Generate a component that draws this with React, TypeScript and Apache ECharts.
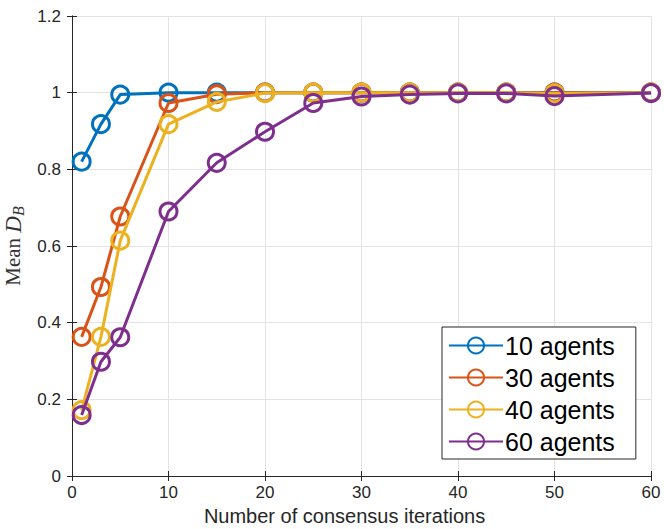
import React, { useEffect, useRef } from 'react';
import * as echarts from 'echarts';

const iterations = [1, 3, 5, 10, 15, 20, 25, 30, 35, 40, 45, 50, 60];
const agents10 = [0.82, 0.918, 0.995, 1.0, 1.0, 1.0, 1.0, 1.0, 1.0, 1.0, 1.0, 1.0, 1.0];
const agents30 = [0.363, 0.493, 0.677, 0.973, 0.996, 1.0, 1.0, 1.0, 1.0, 1.0, 1.0, 1.0, 1.0];
const agents40 = [0.172, 0.363, 0.614, 0.918, 0.976, 0.999, 1.0, 1.0, 1.0, 1.0, 1.0, 0.998, 1.0];
const agents60 = [0.159, 0.298, 0.362, 0.69, 0.817, 0.898, 0.973, 0.99, 0.995, 0.998, 0.998, 0.991, 0.999];
const seriesNames = ['10 agents', '30 agents', '40 agents', '60 agents'];
const seriesValues = [agents10, agents30, agents40, agents60];
const colors = ['#0072BD', '#D95319', '#EDB120', '#7E2F8E'];

const FONT = '"Liberation Sans", Arial, Helvetica, sans-serif';
const SERIF = '"Liberation Serif", "DejaVu Serif", serif';
const AXIS_COLOR = '#262626';
const GRID_COLOR = '#e3e3e3';

export default function App() {
  const ref = useRef<HTMLDivElement>(null);
  useEffect(() => {
    if (!ref.current) return;
    const chart = echarts.init(ref.current, undefined, { renderer: 'svg' });
    const axisCommon = {
      axisLine: { show: true, lineStyle: { color: AXIS_COLOR, width: 1 } },
      axisTick: { show: true, inside: true, length: 5, lineStyle: { color: AXIS_COLOR } },
    };
    chart.setOption({
      animation: false,
      backgroundColor: '#ffffff',
      grid: { left: 72, right: 13, top: 16, bottom: 53, containLabel: false, outerBoundsMode: 'none' },
      xAxis: [
        {
          type: 'value', min: 0, max: 60, interval: 10, position: 'bottom', ...axisCommon,
          axisLabel: { color: AXIS_COLOR, fontSize: 17, fontFamily: FONT, margin: 8 },
          splitLine: { show: true, lineStyle: { color: GRID_COLOR, width: 1 } },
          name: 'Number of consensus iterations', nameLocation: 'middle', nameGap: 30,
          nameTextStyle: { color: AXIS_COLOR, fontSize: 20, fontFamily: FONT, padding: [0, 34, 0, 0] },
        },
        { type: 'value', min: 0, max: 60, interval: 10, position: 'top', ...axisCommon, axisLabel: { show: false }, splitLine: { show: false } },
      ],
      yAxis: [
        {
          type: 'value', min: 0, max: 1.2, interval: 0.2, position: 'left', ...axisCommon,
          axisLabel: { color: AXIS_COLOR, fontSize: 17, fontFamily: FONT, margin: 11 },
          splitLine: { show: true, lineStyle: { color: GRID_COLOR, width: 1 } },
          name: '{m|Mean }{d|D}{b|B}', nameLocation: 'middle', nameGap: 42, nameRotate: 90,
          nameTextStyle: {
            rich: {
              m: { fontFamily: SERIF, fontSize: 21, color: '#333333', lineHeight: 24, verticalAlign: 'top' },
              d: { fontFamily: SERIF, fontStyle: 'italic', fontSize: 23, color: '#333333', lineHeight: 24, verticalAlign: 'top' },
              b: { fontFamily: SERIF, fontStyle: 'italic', fontSize: 16, color: '#333333', lineHeight: 16, padding: [12, 0, 0, 0], verticalAlign: 'bottom' },
            },
          },
        },
        { type: 'value', min: 0, max: 1.2, interval: 0.2, position: 'right', ...axisCommon, axisLabel: { show: false }, splitLine: { show: false } },
      ],
      legend: {
        orient: 'vertical', left: 442, top: 327, itemWidth: 54, itemHeight: 20, itemGap: 7,
        padding: [6, 21, 5, 6], backgroundColor: '#ffffff', borderColor: AXIS_COLOR, borderWidth: 1, borderRadius: 0,
        textStyle: { fontSize: 25, fontFamily: FONT, color: '#000000', lineHeight: 24, padding: [0, 0, 0, -3] },
        data: seriesNames,
      },
      series: seriesNames.map((name, i) => ({
        name, type: 'line', xAxisIndex: 0, yAxisIndex: 0,
        data: iterations.map((x, j) => [x, seriesValues[i][j]]),
        color: colors[i], symbol: 'circle', symbolSize: 17, showAllSymbol: true,
        lineStyle: { color: colors[i], width: 3 },
        itemStyle: { color: 'rgba(255,255,255,0)', borderColor: colors[i], borderWidth: 3 },
        z: 2 + i, emphasis: { disabled: true },
      })),
    });
    return () => chart.dispose();
  }, []);
  return <div ref={ref} style={{ position: 'fixed', left: 0, top: 0, width: 664, height: 529 }} />;
}
